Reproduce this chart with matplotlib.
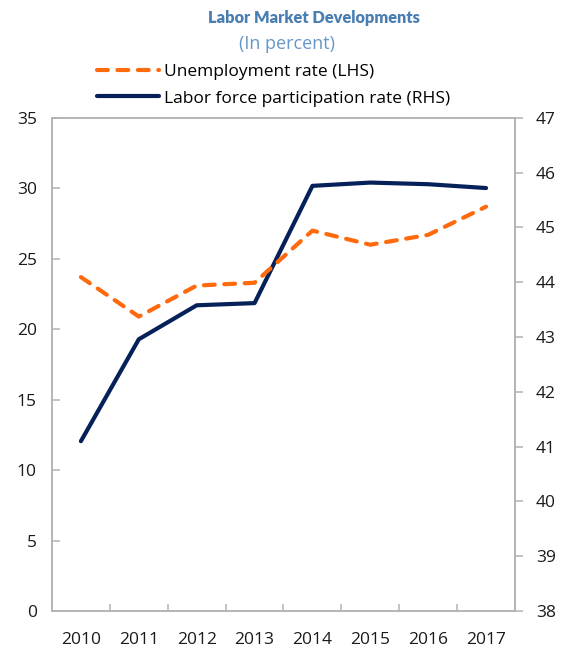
import matplotlib.pyplot as plt
import numpy as np

plt.rcParams['font.family'] = ['Open Sans', 'DejaVu Sans']

years = ["2010", "2011", "2012", "2013", "2014", "2015", "2016", "2017"]
unemployment = [23.7, 20.9, 23.1, 23.3, 27.0, 26.0, 26.7, 28.7]
participation = [41.1, 42.96, 43.58, 43.62, 45.76, 45.82, 45.79, 45.72]

left_ticks = [0, 5, 10, 15, 20, 25, 30, 35]
right_ticks = [38, 39, 40, 41, 42, 43, 44, 45, 46, 47]

orange = "#FF6A0D"
navy = "#06215A"
grey = "#B3B3B3"

fig = plt.figure(figsize=(5.65, 6.54), dpi=100)
ax = fig.add_axes([0.092, 0.0657, 0.8195, 0.754])
ax2 = ax.twinx()

x = np.arange(len(years))

# unemployment on top of participation line
ax.set_zorder(2)
ax.patch.set_visible(False)

l1, = ax.plot(x, unemployment, color=orange, lw=3, linestyle=(0, (2.6, 2.3)),
              dash_capstyle="round", label="Unemployment rate (LHS)")
l2, = ax2.plot(x, participation, color=navy, lw=3, solid_capstyle="round",
               label="Labor force participation rate (RHS)")

ax.set_xlim(-0.5, len(years) - 0.5)
ax.set_ylim(0, 35)
ax2.set_ylim(38, 47)
ax.set_yticks(left_ticks)
ax2.set_yticks(right_ticks)

ax.set_xticks(x)
ax.set_xticklabels(years)
ax.set_xticks(np.arange(0.5, len(years) - 1, 1), minor=True)
ax.tick_params(axis="x", which="major", length=0, pad=15, labelsize=12.5, colors="#1a1a1a")
ax.tick_params(axis="x", which="minor", length=5, direction="in", color=grey, width=1.1)
ax.tick_params(axis="y", direction="in", length=6, color=grey, width=1.1, pad=11,
               labelsize=12.5, labelcolor="#1a1a1a")
ax2.tick_params(axis="y", direction="out", length=6, color=grey, width=1.1, pad=9,
                labelsize=12.5, labelcolor="#1a1a1a")

for a in (ax, ax2):
    for s in a.spines.values():
        s.set_color(grey)
        s.set_linewidth(1.1)

fig.text(0.556, 0.973, "Labor Market Developments", ha="center", va="center",
         fontsize=11.8, fontweight="heavy", color="#4A7EB2", family=["Lato", "DejaVu Sans"])
fig.text(0.508, 0.932, "(In percent)", ha="center", va="center",
         fontsize=13, color="#6697C9")

ax.legend(handles=[l1, l2], loc="upper left", bbox_to_anchor=(0.171, 0.903),
          bbox_transform=fig.transFigure, frameon=False, fontsize=12.5,
          handlelength=3.6, handletextpad=0.3, labelspacing=0.62,
          borderaxespad=0, borderpad=0)

fig.savefig("out.png", dpi=100)
